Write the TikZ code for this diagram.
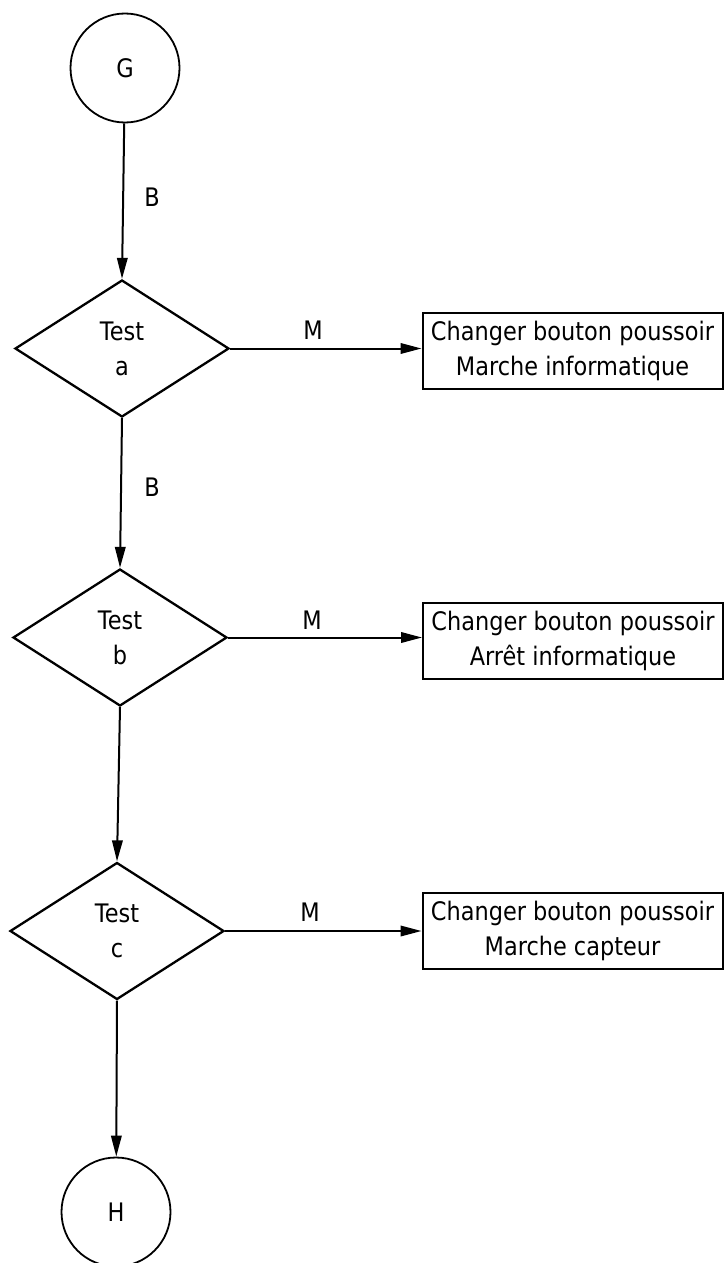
\documentclass[tikz,border=0pt]{standalone}
\usepackage{fontspec}
\setmainfont[FakeStretch=0.88]{DejaVu Sans}
\usetikzlibrary{shapes.geometric,arrows.meta}
\begin{document}
\begin{tikzpicture}[x=1pt,y=-1pt,
  every node/.style={font=\fontsize{25.5}{35}\selectfont},
  term/.style={circle,draw,line width=1.8pt,minimum size=109pt,inner sep=0pt},
  test/.style={diamond,draw,line width=2.3pt,aspect=1.56,minimum width=214pt,minimum height=137pt,inner sep=0pt,align=center},
  action/.style={rectangle,draw,line width=2pt,minimum width=300pt,minimum height=76pt,inner sep=0pt,align=center},
  flow/.style={draw,line width=2pt,-{Triangle[length=21pt,width=10.5pt]}},
  lab/.style={inner sep=0pt}
]
\useasboundingbox (0,0) rectangle (726,1263);
\node[term] (G) at (125,68) {G};
\node[test] (ta) at (122,348.5) {Test\\a};
\node[test] (tb) at (120,637.5) {Test\\b};
\node[test] (tc) at (117,931) {Test\\c};
\node[term] (H) at (116,1212) {H};
\node[action] (b1) at (572.5,351) {Changer bouton poussoir\\Marche informatique};
\node[action] (b2) at (573,641) {Changer bouton poussoir\\Arr\^et informatique};
\node[action] (b3) at (572.5,931) {Changer bouton poussoir\\Marche capteur};
\draw[flow] (G) -- (ta.north);
\draw[flow] (ta.south) -- (tb.north);
\draw[flow] (tb.south) -- (tc.north);
\draw[flow] (tc.south) -- (H);
\draw[flow] (ta.east) -- (ta.east -| b1.west);
\draw[flow] (tb.east) -- (tb.east -| b2.west);
\draw[flow] (tc.east) -- (tc.east -| b3.west);
\node[lab] (l1) at (152,197) {B};
\node[lab] (l2) at (152,487) {B};
\node[lab] (m1) at (313,330) {M};
\node[lab] (m2) at (312,620) {M};
\node[lab] (m3) at (310,912) {M};
\end{tikzpicture}
\end{document}
